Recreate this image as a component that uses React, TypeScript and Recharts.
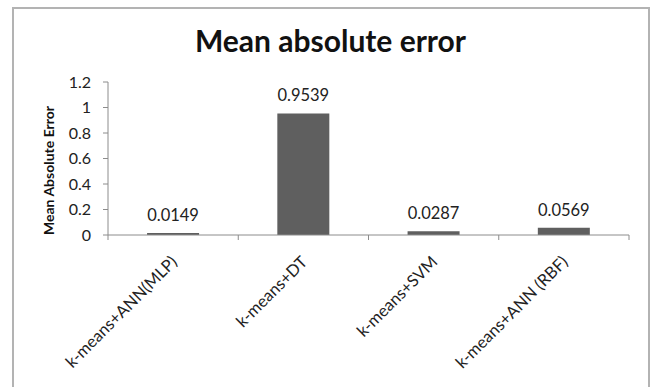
import { Bar, BarChart, LabelList, XAxis, YAxis } from "recharts";

const methods = ["k-means+ANN(MLP)", "k-means+DT", "k-means+SVM", "k-means+ANN (RBF)"];
const maeValues = [0.0149, 0.9539, 0.0287, 0.0569];
const yTicks = [0, 0.2, 0.4, 0.6, 0.8, 1, 1.2];

const chartData = methods.map((name, i) => ({ name, mae: maeValues[i] }));

const AXIS = "#8c8c8c";
const FONT = "Lato, 'Open Sans', sans-serif";

// Excel-style category tick: marks sit on the band edges, label is slanted
function CategoryTick(props: any) {
  const { x, y, payload, index, visibleTicksCount } = props;
  const half = payload?.offset ?? 0;
  const last = index === visibleTicksCount - 1;
  return (
    <g>
      <line x1={x - half} x2={x - half} y1={y} y2={y + 5} stroke={AXIS} />
      {last && <line x1={x + half} x2={x + half} y1={y} y2={y + 5} stroke={AXIS} />}
      <g transform={`translate(${x + 5},${y + 28})`}>
        <text
          transform="rotate(-45)"
          textAnchor="end"
          fontSize={16.5}
          fontFamily={FONT}
          fill="#222"
        >
          {payload.value}
        </text>
      </g>
    </g>
  );
}

export default function App() {
  return (
    <div
      style={{
        position: "absolute",
        left: 0,
        top: 0,
        width: 656,
        height: 387,
        background: "#fff",
        overflow: "hidden",
        fontFamily: FONT,
      }}
    >
      <div
        style={{
          position: "absolute",
          left: 12,
          top: 7,
          width: 634,
          height: 400,
          borderTop: "2px solid #b3b3b3",
          borderLeft: "2px solid #b3b3b3",
          borderRight: "2px solid #b3b3b3",
        }}
      />
      <div
        style={{
          position: "absolute",
          left: 0,
          width: 661,
          top: 22,
          textAlign: "center",
          fontSize: 30,
          fontWeight: 700,
          color: "#111",
          lineHeight: "36px",
        }}
      >
        Mean absolute error
      </div>
      <div style={{ position: "absolute", left: 0, top: 0 }}>
        <BarChart
          width={656}
          height={387}
          data={chartData}
          barCategoryGap="30%"
          margin={{ top: 82, right: 27, left: 0, bottom: 52 }}
        >
          <XAxis
            dataKey="name"
            height={100}
            interval={0}
            stroke={AXIS}
            tickLine={false}
            tickSize={0}
            tickMargin={0}
            tick={<CategoryTick />}
          />
          <YAxis
            width={108}
            domain={[0, 1.2]}
            ticks={yTicks}
            interval={0}
            stroke={AXIS}
            tickSize={5}
            tickMargin={12}
            tick={{ fontSize: 16, fill: "#222", fontFamily: FONT }}
            label={{
              value: "Mean Absolute Error",
              angle: -90,
              position: "center",
              dx: -5,
              dy: 12,
              fontSize: 14,
              fontWeight: 700,
              fill: "#111",
              fontFamily: FONT,
            }}
          />
          <Bar dataKey="mae" fill="#5f5f5f" isAnimationActive={false}>
            <LabelList
              dataKey="mae"
              position="top"
              offset={12}
              fontSize={16.5}
              fill="#222"
              fontFamily={FONT}
            />
          </Bar>
        </BarChart>
      </div>
    </div>
  );
}
